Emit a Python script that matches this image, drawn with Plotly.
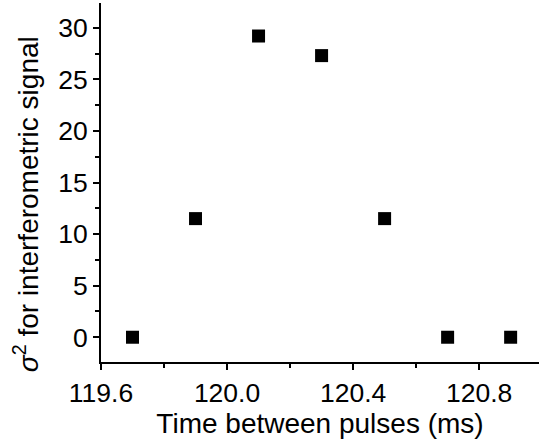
import plotly.graph_objects as go

time_ms = [119.7, 119.9, 120.1, 120.3, 120.5, 120.7, 120.9]
sigma2 = [0.0, 11.5, 29.2, 27.3, 11.5, 0.0, 0.0]

x_ticks = [119.6, 120.0, 120.4, 120.8]
x_tick_labels = ["119.6", "120.0", "120.4", "120.8"]
y_ticks = [0, 5, 10, 15, 20, 25, 30]

x_title = "Time between pulses (ms)"
y_title = "<i>σ</i><sup>2</sup> for interferometric signal"

fig = go.Figure()
fig.add_trace(go.Scatter(
    x=time_ms, y=sigma2, mode="markers",
    marker=dict(symbol="square", size=13, color="black", line=dict(width=0)),
    showlegend=False,
))

font = dict(family="Liberation Sans, Arial, sans-serif", color="black")

fig.update_layout(
    width=539, height=442,
    margin=dict(l=101, r=0, t=3, b=80),
    paper_bgcolor="white", plot_bgcolor="white",
    font=font,
)
fig.update_xaxes(
    range=[119.6, 120.99],
    automargin=False,
    tickmode="array", tickvals=x_ticks, ticktext=x_tick_labels,
    ticks="outside", ticklen=6, tickwidth=2, tickcolor="black",
    minor=dict(ticks="outside", ticklen=4, tickwidth=2, tickcolor="black", dtick=0.2, tick0=119.6),
    showline=True, linewidth=2, linecolor="black",
    showgrid=False, zeroline=False,
    tickfont=dict(size=26.5, **font),
    title=dict(text=x_title, font=dict(size=28, **font), standoff=2),
)
fig.update_yaxes(
    range=[-2.4, 32.4],
    automargin=False,
    tickmode="array", tickvals=y_ticks,
    ticks="outside", ticklen=6, tickwidth=2, tickcolor="black",
    minor=dict(ticks="outside", ticklen=4, tickwidth=2, tickcolor="black", dtick=2.5, tick0=0),
    showline=True, linewidth=2, linecolor="black",
    showgrid=False, zeroline=False,
    tickfont=dict(size=26.5, **font),
)
fig.add_annotation(
    text=y_title, textangle=-90,
    xref="paper", yref="paper", x=-0.171, y=0.44,
    xanchor="center", yanchor="middle", showarrow=False,
    font=dict(size=28, **font),
)

fig.write_html("out.html", config={"displayModeBar": False},
               post_script="document.body.style.margin='0px';document.body.style.overflow='hidden';")
